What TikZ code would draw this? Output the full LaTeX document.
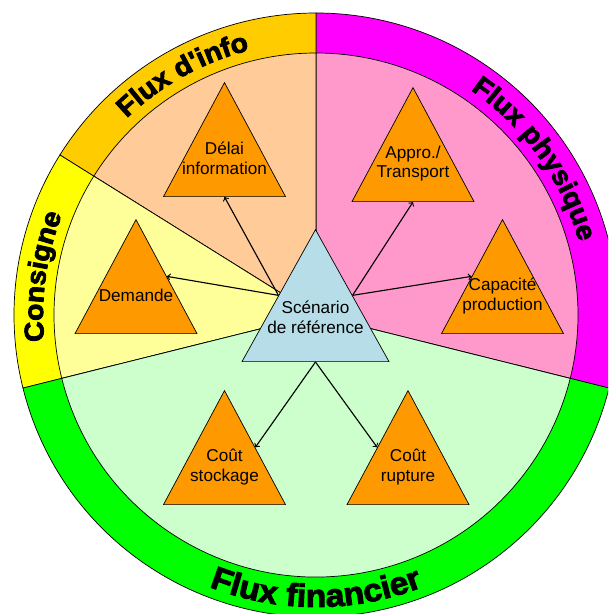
\documentclass[tikz,border=0pt]{standalone}
\usepackage{fontspec}
\setmainfont{Liberation Sans}
\newfontfamily\bandfont[BoldFeatures={FakeBold=3,FakeStretch=1.05}]{Liberation Sans}
\usetikzlibrary{calc,shapes.geometric,decorations.text}
\definecolor{orangetri}{HTML}{FF9900}
\definecolor{bleuclair}{HTML}{B7DEE8}
\definecolor{orinfo}{HTML}{FFCC00}
\definecolor{peche}{HTML}{FFCC99}
\definecolor{fuchsia}{HTML}{FF00FF}
\definecolor{rose}{HTML}{FF99CC}
\definecolor{jaune}{HTML}{FFFF00}
\definecolor{jauneclair}{HTML}{FFFF99}
\definecolor{vert}{HTML}{00FF00}
\definecolor{vertclair}{HTML}{CCFFCC}
\newcommand\bandlbl[1]{\bandfont\bfseries\fontsize{#1}{#1}\selectfont}
\begin{document}
\begin{tikzpicture}[x=0.025cm,y=0.025cm,
  tri/.style={isosceles triangle,isosceles triangle stretches,shape border rotate=90,
    minimum width=3.05cm,minimum height=2.85cm,inner sep=0pt,draw,line width=0.5pt,fill=orangetri},
  lbl/.style={align=center,font=\fontsize{12.2}{14.2}\selectfont,inner sep=0pt}]
\useasboundingbox (0,0) rectangle (608,614);
\clip (0,0) rectangle (608,614);
\coordinate (C) at (316,299);
\begin{scope}[shift={(C)},line width=0.5pt]
% secteurs : bande puis interieur
\foreach \a/\b/\cb/\ci in {-14/90/fuchsia/rose, 90/148/orinfo/peche, 148/194/jaune/jauneclair, 194/346/vert/vertclair}{
  \draw[fill=\cb] (0,0) -- (\a:302) arc[start angle=\a,end angle=\b,radius=302] -- cycle;
  \draw[fill=\ci] (0,0) -- (\a:262) arc[start angle=\a,end angle=\b,radius=262] -- cycle;
}
\path[decorate,decoration={text along path,text align=center,text={|\bandlbl{19.2}|Flux d'info}}]
  (150:273) arc[start angle=150,end angle=88,radius=273];
\path[decorate,decoration={text along path,text align=center,text={|\bandlbl{19.2}|Flux physique}}]
  (70:273) arc[start angle=70,end angle=1,radius=273];
\path[decorate,decoration={text along path,text align=center,text={|\bandlbl{19.2}|Consigne}}]
  (195:273) arc[start angle=195,end angle=149,radius=273];
\path[decorate,decoration={text along path,text align=center,text={|\bandlbl{22.8}|Flux financier}}]
  (240:292) arc[start angle=240,end angle=300,radius=292];
\end{scope}
% triangles
\node[tri,fill=bleuclair,minimum width=3.675cm,minimum height=3.3cm,anchor=lower side] (scen) at (315.5,252) {};
\node[lbl] at ($(scen.apex)!2/3!(scen.lower side)$) {Scénario\\de référence};
\node[tri,anchor=lower side] (delai) at (224.5,417) {};
\node[lbl] at ($(delai.apex)!2/3!(delai.lower side)$) {Délai\\information};
\node[tri,anchor=lower side] (demande) at (136,280) {};
\node[lbl] at ($(demande.apex)!2/3!(demande.lower side)$) {Demande};
\node[tri,anchor=lower side] (appro) at (413,412) {};
\node[lbl] at ($(appro.apex)!2/3!(appro.lower side)$) {Appro./\\Transport};
\node[tri,anchor=lower side] (capa) at (502.5,280) {};
\node[lbl] at ($(capa.apex)!2/3!(capa.lower side)$) {Capacité\\production};
\node[tri,anchor=lower side] (stock) at (224.5,109) {};
\node[lbl] at ($(stock.apex)!2/3!(stock.lower side)$) {Coût\\stockage};
\node[tri,anchor=lower side] (rupt) at (408,109) {};
\node[lbl] at ($(rupt.apex)!2/3!(rupt.lower side)$) {Coût\\rupture};
% fleches
\foreach \s/\t in {scen.left side/delai.lower side, scen.left side/demande.right side,
  scen.right side/appro.lower side, scen.right side/capa.left side,
  scen.lower side/stock.right side, scen.lower side/rupt.left side}
  \draw[->,line width=0.8pt] (\s) -- (\t);
\end{tikzpicture}
\end{document}
